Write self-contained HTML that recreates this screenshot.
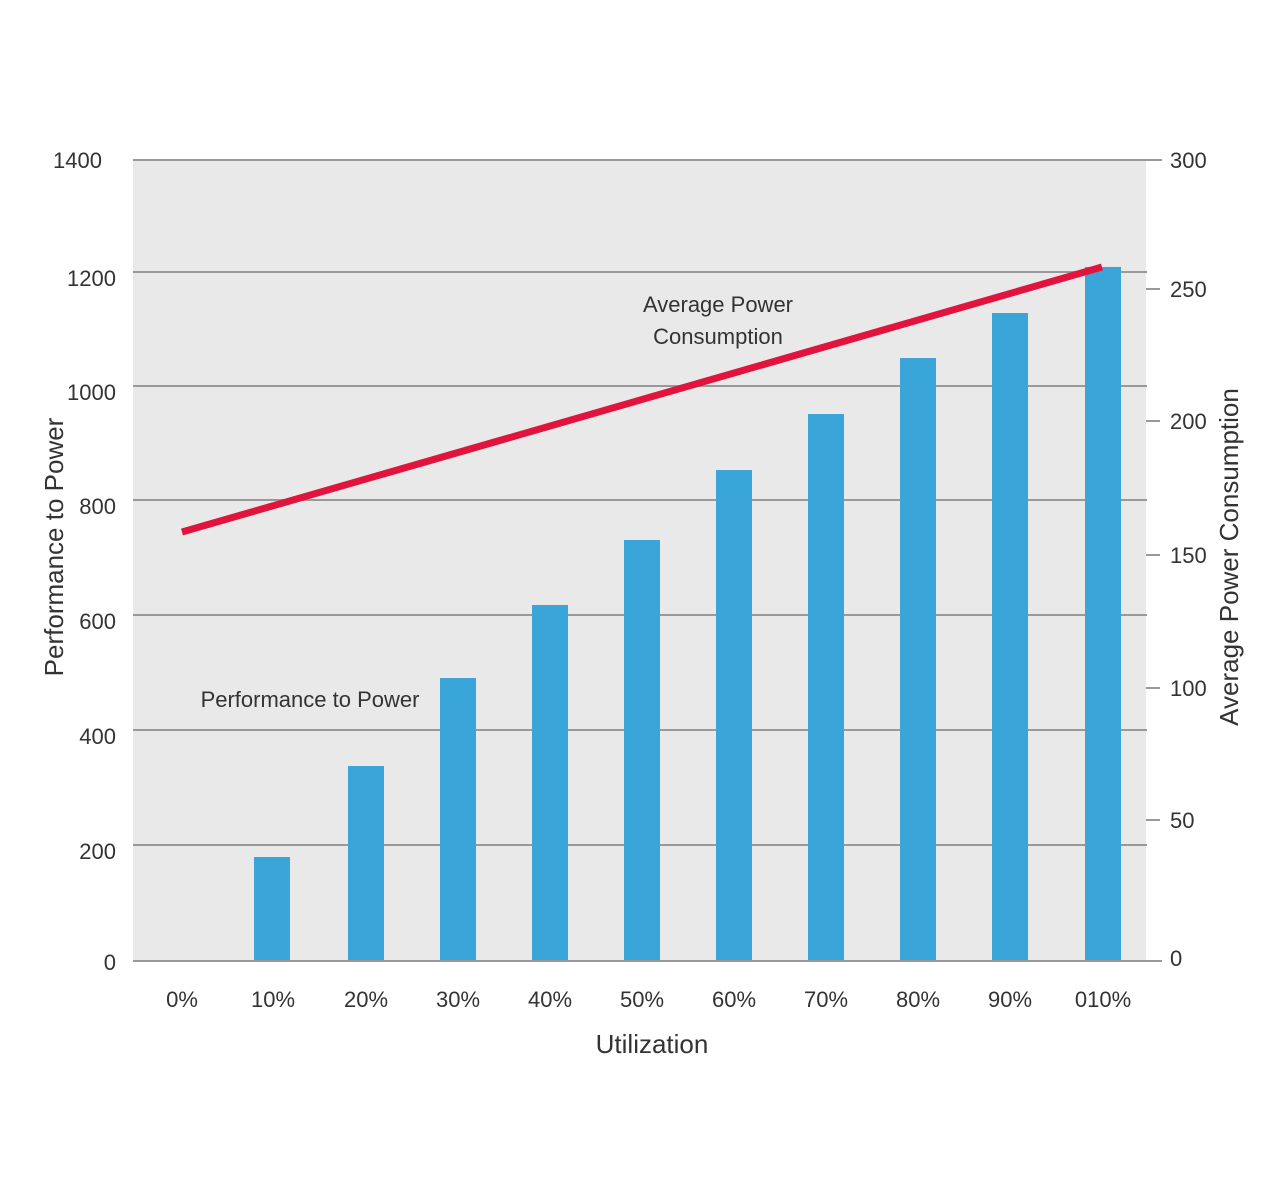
<!DOCTYPE html>
<html><head><meta charset="utf-8"><style>
html,body{margin:0;padding:0;background:#fff;}
svg{display:block;}
text{font-family:"Liberation Sans Narrow","Liberation Sans",sans-serif;fill:#333;}
</style></head><body>
<svg width="1280" height="1190" viewBox="0 0 1280 1190" xmlns="http://www.w3.org/2000/svg">
<rect x="133" y="160" width="1013" height="801" fill="#e9e9e9"/>
<g stroke="#999" stroke-width="2">
<line x1="133" y1="160" x2="1162" y2="160"/>
<line x1="133" y1="272" x2="1147" y2="272"/>
<line x1="133" y1="386" x2="1147" y2="386"/>
<line x1="133" y1="500" x2="1147" y2="500"/>
<line x1="133" y1="615" x2="1147" y2="615"/>
<line x1="133" y1="730" x2="1147" y2="730"/>
<line x1="133" y1="845" x2="1147" y2="845"/>
<line x1="133" y1="961" x2="1162" y2="961"/>
<line x1="1146" y1="289" x2="1160" y2="289"/>
<line x1="1146" y1="421" x2="1160" y2="421"/>
<line x1="1146" y1="555" x2="1160" y2="555"/>
<line x1="1146" y1="688" x2="1160" y2="688"/>
<line x1="1146" y1="820" x2="1160" y2="820"/>
</g>
<g fill="#3aa5d8">
<rect x="254" y="857" width="36" height="103"/>
<rect x="348" y="766" width="36" height="194"/>
<rect x="440" y="678" width="36" height="282"/>
<rect x="532" y="605" width="36" height="355"/>
<rect x="624" y="540" width="36" height="420"/>
<rect x="716" y="470" width="36" height="490"/>
<rect x="808" y="414" width="36" height="546"/>
<rect x="900" y="358" width="36" height="602"/>
<rect x="992" y="313" width="36" height="647"/>
<rect x="1085" y="267" width="36" height="693"/>
</g>
<line x1="182" y1="532" x2="1102" y2="267" stroke="#e0143c" stroke-width="7"/>
<g font-size="22" text-anchor="end">
<text x="102" y="168">1400</text>
<text x="116" y="286">1200</text>
<text x="116" y="400">1000</text>
<text x="116" y="514">800</text>
<text x="116" y="629">600</text>
<text x="116" y="744">400</text>
<text x="116" y="859">200</text>
<text x="116" y="970">0</text>
</g>
<g font-size="22" text-anchor="start">
<text x="1170" y="168">300</text>
<text x="1170" y="297">250</text>
<text x="1170" y="429">200</text>
<text x="1170" y="563">150</text>
<text x="1170" y="696">100</text>
<text x="1170" y="828">50</text>
<text x="1170" y="966">0</text>
</g>
<g font-size="22" text-anchor="middle">
<text x="182" y="1007">0%</text>
<text x="273" y="1007">10%</text>
<text x="366" y="1007">20%</text>
<text x="458" y="1007">30%</text>
<text x="550" y="1007">40%</text>
<text x="642" y="1007">50%</text>
<text x="734" y="1007">60%</text>
<text x="826" y="1007">70%</text>
<text x="918" y="1007">80%</text>
<text x="1010" y="1007">90%</text>
<text x="1103" y="1007">010%</text>
<text x="652" y="1053" font-size="26">Utilization</text>
<text x="718" y="312">Average Power</text>
<text x="718" y="344">Consumption</text>
<text x="310" y="707">Performance to Power</text>
<text font-size="26" transform="translate(63,547) rotate(-90)">Performance to Power</text>
<text font-size="26" transform="translate(1238,557) rotate(-90)">Average Power Consumption</text>
</g>
</svg>
</body></html>
